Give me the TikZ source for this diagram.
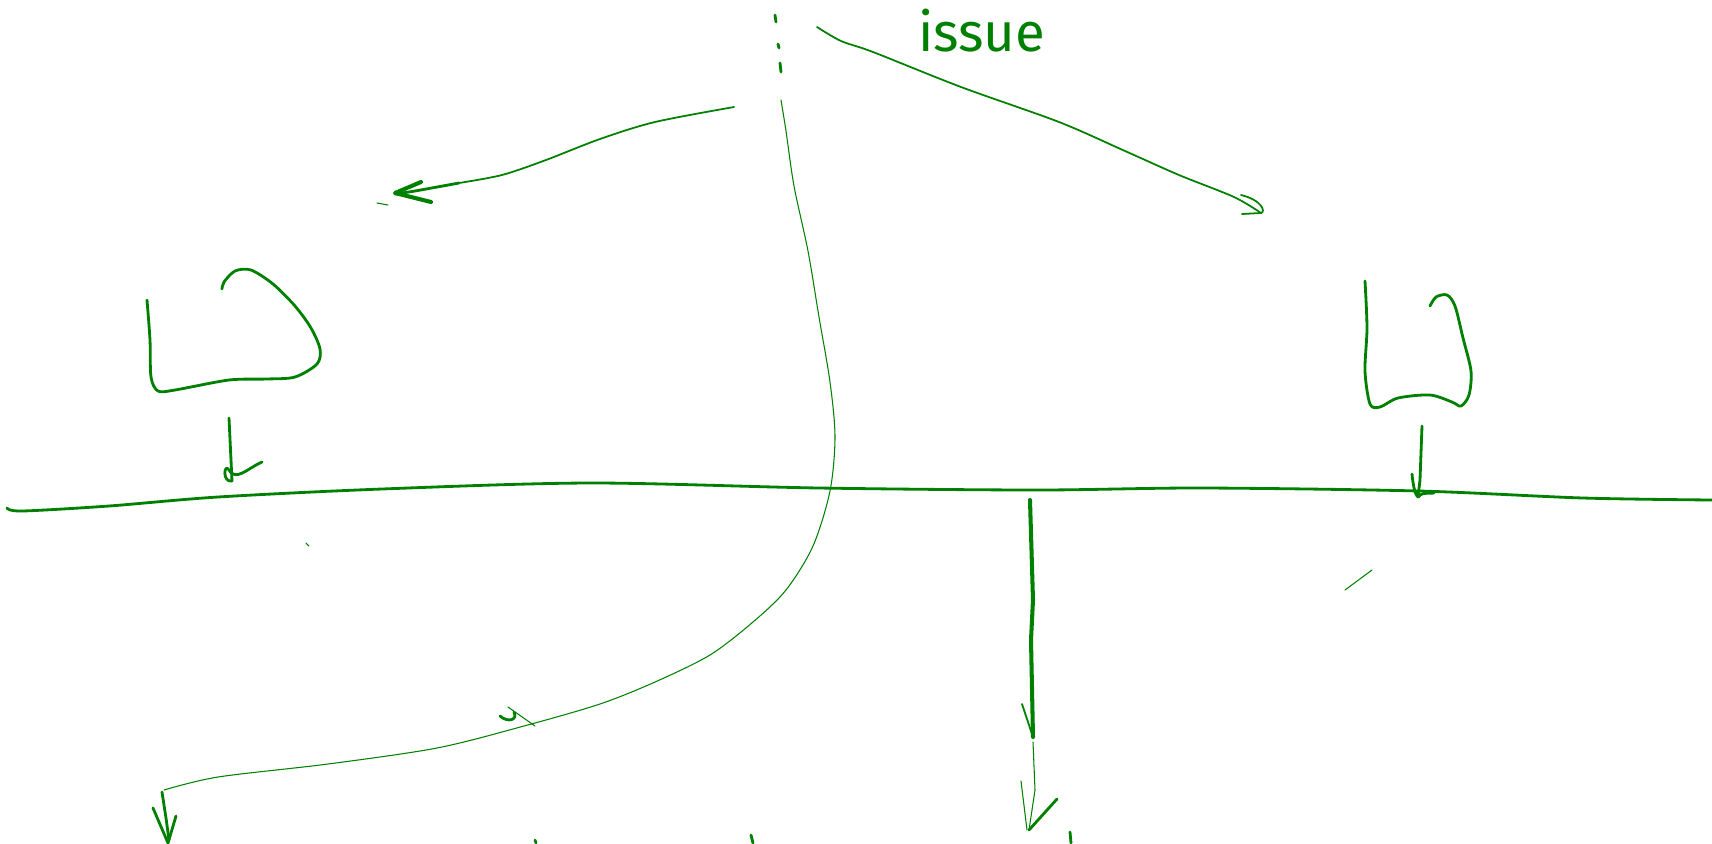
\documentclass[tikz,border=0pt]{standalone}
\usepackage{fontspec}
\setsansfont{Fira Sans}
\definecolor{ink}{RGB}{0,128,0}
\tikzset{
  pen/.style={draw=ink, line width=1.6pt, line cap=round, line join=round},
  heavypen/.style={draw=ink, line width=2.3pt, line cap=round, line join=round},
  thinpen/.style={draw=ink, line width=0.6pt, line cap=round, line join=round},
  midpen/.style={draw=ink, line width=1.0pt, line cap=round, line join=round}
}
\begin{document}
\begin{tikzpicture}[x=0.02cm, y=-0.02cm]

        % Canvas (pixel grid of the sketch)
        \useasboundingbox (0,0) rectangle (1712,843);

        % Dots at the top
        \draw[pen] (775,15) -- (776,22);
        \draw[pen] (778,44) -- (779,48);
        \draw[pen] (780,63) -- (781,72);

        % Label
        \node[text=ink, font=\sffamily\fontsize{31}{31}\selectfont, anchor=base west] (issue) at (912,51) {issue};

        % Arrow to the left
        \draw[midpen] plot[smooth] coordinates {(734,107) (655,122) (600,139) (546,160) (502,175) (459,183)};
        \draw[pen] plot[smooth] coordinates {(459,183) (415,191) (395,194)};
        \draw[heavypen] (421,182) -- (395,193) -- (431,202);
        \draw[thinpen] (377,203) -- (388,205);

        % Arrow to the right
        \draw[midpen] plot[smooth] coordinates {(817,27) (841,41) (873,52) (961,87) (1059,122) (1125,151) (1179,175) (1234,197) (1261,213)};
        \draw[midpen] (1241,195) .. controls (1262,200) and (1266,212) .. (1261,213) -- (1242,214);

        % Left cup
        \draw[pen] plot[smooth] coordinates {(147,300) (150,340) (151,377) (158,391) (175,390) (229,380) (267,379) (295,377) (317,364) (320,349) (311,328) (295,306) (273,284) (251,270) (235,271) (224,282) (222,289)};
        \draw[pen] (229,418) -- (232,481);
        \draw[pen] (232,481) .. controls (222,483) and (224,462) .. (229,470) .. controls (236,482) and (248,468) .. (262,462);

        % Right cup
        \draw[pen] plot[smooth] coordinates {(1365,281) (1367,328) (1365,371) (1370,404) (1380,407) (1398,398) (1430,395) (1452,402) (1461,406) (1469,395) (1471,371) (1463,338) (1455,306) (1447,295) (1436,297) (1430,306)};
        \draw[pen] (1422,426) -- (1420,480) -- (1418,497);
        \draw[pen] (1412,474) .. controls (1414,495) and (1418,500) .. (1420,495) .. controls (1424,492) and (1430,494) .. (1434,493);

        % Main line
        \draw[pen] plot[smooth] coordinates {(7,508) (22,511) (109,506) (218,497) (382,489) (590,483) (819,488) (1037,490) (1201,488) (1419,491) (1583,498) (1712,500)};

        % Long curve from the top
        \draw[thinpen] plot[smooth] coordinates {(781,100) (786,131) (794,186) (808,251) (819,317) (830,382) (835,437) (830,491) (813,546) (786,590) (753,622) (710,655) (655,682) (600,704) (524,726) (437,748) (328,764) (218,777) (164,790)};
        \draw[pen] (162,792) -- (166,818) -- (169,840);
        \draw[pen] (153,808) -- (168,843) -- (176,816);

        % Down arrow (thick then thin)
        \draw[heavypen] (1030,500) -- (1033,600) -- (1031,640) -- (1033,737);
        \draw[midpen] (1022,704) -- (1033,737);
        \draw[thinpen] (1033,742) -- (1035,790) -- (1029,830);
        \draw[thinpen] (1021,781) -- (1027,830);
        \draw[pen] (1029,830) -- (1057,799);

        % Stray marks
        \draw[thinpen] (306,543) -- (309,546);
        \draw[thinpen] (1345,590) -- (1372,570);
        \draw[pen] (500,716) .. controls (508,723) and (518,720) .. (514,712);
        \draw[thinpen] (508,707) -- (535,726);

        % Stubs along the bottom edge
        \draw[pen] (535,840) -- (536,843);
        \draw[pen] (751,835) -- (753,843);
        \draw[pen] (1070,832) -- (1071,843);

\end{tikzpicture}
\end{document}
